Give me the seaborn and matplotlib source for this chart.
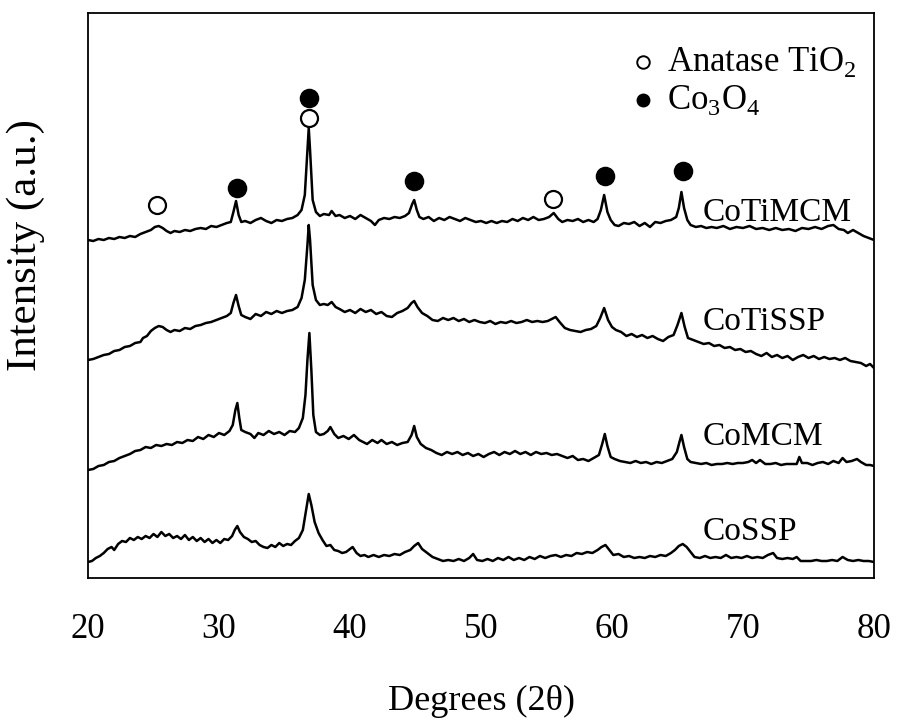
import matplotlib
matplotlib.use("Agg")
import matplotlib.pyplot as plt
import seaborn as sns

sns.set_style("white")
plt.rcParams['font.family'] = ['Liberation Serif', 'DejaVu Serif']
plt.rcParams['mathtext.fontset'] = 'custom'
plt.rcParams['mathtext.rm'] = 'Liberation Serif'
plt.rcParams['text.color'] = 'black'
plt.rcParams['axes.labelcolor'] = 'black'
plt.rcParams['xtick.color'] = 'black'

# XRD traces (stacked, intensity in a.u.)
cotimcm_2theta = [20.0, 20.4, 20.8, 21.2, 21.6, 22.0, 22.4, 22.8, 23.2, 23.6, 24.0, 24.4, 24.8, 25.1, 25.4, 25.7,
                  26.0, 26.3, 26.6, 27.0, 27.4, 27.8, 28.2, 28.6, 29.0, 29.4, 29.8, 30.2, 30.6, 30.9, 31.1, 31.3,
                  31.5, 31.7, 32.0, 32.4, 32.8, 33.2, 33.6, 34.0, 34.4, 34.8, 35.2, 35.6, 36.0, 36.3, 36.55, 36.75,
                  36.85, 36.95, 37.15, 37.4, 37.7, 38.0, 38.4, 38.6, 38.9, 39.2, 39.6, 40.0, 40.4, 40.8, 41.2, 41.6,
                  41.9, 42.2, 42.6, 43.0, 43.4, 43.8, 44.2, 44.5, 44.75, 44.9, 45.1, 45.3, 45.6, 46.0, 46.4, 46.8,
                  47.2, 47.6, 48.0, 48.4, 48.8, 49.2, 49.6, 50.0, 50.4, 50.8, 51.2, 51.6, 52.0, 52.4, 52.8, 53.2,
                  53.6, 54.0, 54.4, 54.8, 55.2, 55.55, 55.9, 56.2, 56.6, 57.0, 57.4, 57.8, 58.2, 58.6, 58.9, 59.15,
                  59.4, 59.65, 59.9, 60.2, 60.5, 60.9, 61.3, 61.7, 62.1, 62.5, 62.9, 63.3, 63.7, 64.1, 64.5, 64.9,
                  65.1, 65.3, 65.5, 65.75, 66.0, 66.4, 66.8, 67.2, 67.6, 68.0, 68.5, 69.0, 69.5, 70.0, 70.5, 71.0,
                  71.5, 72.0, 72.5, 73.0, 73.5, 74.0, 74.5, 75.0, 75.5, 76.0, 76.5, 76.9, 77.3, 77.7, 78.0, 78.4,
                  78.8, 79.2, 79.6, 80.0]
cotimcm_int = [338, 337, 339, 338, 340, 339, 341, 340, 342, 341, 344, 346, 348, 351, 352, 350,
               347, 345, 347, 346, 348, 347, 349, 350, 349, 352, 351, 353, 355, 356, 366, 377,
               363, 356, 357, 355, 358, 360, 357, 355, 358, 357, 359, 360, 363, 368, 383, 428,
               450, 428, 378, 366, 362, 364, 363, 367, 362, 363, 360, 362, 359, 363, 360, 357,
               353, 358, 360, 359, 361, 360, 362, 365, 374, 378, 368, 361, 359, 361, 357, 360,
               358, 361, 359, 357, 360, 358, 356, 357, 355, 357, 355, 357, 356, 359, 357, 360,
               358, 361, 358, 359, 361, 365, 359, 356, 358, 357, 359, 356, 358, 356, 359, 368,
               383, 366, 358, 353, 352, 355, 354, 356, 352, 355, 351, 356, 355, 357, 358, 361,
               370, 386, 370, 358, 353, 351, 352, 350, 351, 350, 352, 349, 351, 350, 352, 349,
               350, 348, 350, 348, 349, 347, 350, 349, 351, 349, 352, 353, 349, 348, 345, 348,
               345, 342, 340, 338]

cotissp_2theta = [20.0, 20.4, 20.8, 21.2, 21.6, 22.0, 22.4, 22.8, 23.2, 23.6, 24.0, 24.2, 24.5, 24.8, 25.1, 25.4,
                  25.7, 26.0, 26.3, 26.6, 27.0, 27.4, 27.8, 28.2, 28.6, 29.0, 29.4, 29.8, 30.2, 30.6, 30.9, 31.1,
                  31.3, 31.5, 31.7, 32.0, 32.4, 32.8, 33.2, 33.6, 34.0, 34.4, 34.8, 35.2, 35.6, 36.0, 36.3, 36.55,
                  36.75, 36.85, 36.95, 37.15, 37.4, 37.7, 38.0, 38.3, 38.6, 38.9, 39.2, 39.6, 40.0, 40.4, 40.8, 41.2,
                  41.6, 42.0, 42.4, 42.8, 43.2, 43.6, 44.0, 44.4, 44.7, 44.9, 45.15, 45.5, 45.9, 46.3, 46.7, 47.1,
                  47.5, 47.9, 48.3, 48.7, 49.1, 49.5, 49.9, 50.3, 50.7, 51.1, 51.5, 51.9, 52.3, 52.7, 53.1, 53.5,
                  53.9, 54.3, 54.7, 55.1, 55.4, 55.7, 56.0, 56.4, 56.8, 57.2, 57.6, 58.0, 58.4, 58.8, 59.1, 59.4,
                  59.7, 60.0, 60.3, 60.7, 61.1, 61.5, 61.9, 62.3, 62.7, 63.1, 63.5, 63.9, 64.3, 64.7, 65.0, 65.3,
                  65.55, 65.8, 66.2, 66.6, 67.0, 67.4, 67.8, 68.2, 68.6, 69.0, 69.4, 69.8, 70.2, 70.6, 71.0, 71.4,
                  71.8, 72.2, 72.6, 73.0, 73.4, 73.8, 74.2, 74.6, 75.0, 75.4, 75.8, 76.2, 76.6, 77.0, 77.4, 77.8,
                  78.2, 78.6, 79.0, 79.4, 79.7, 80.0]
cotissp_int = [218, 219, 221, 223, 224, 227, 228, 231, 232, 235, 236, 240, 242, 247, 250, 252,
               251, 248, 246, 248, 247, 250, 249, 252, 253, 255, 256, 258, 260, 262, 265, 275,
               283, 272, 263, 261, 259, 264, 262, 266, 264, 267, 265, 267, 268, 271, 280, 298,
               333, 353, 338, 293, 278, 273, 274, 273, 276, 271, 269, 266, 268, 265, 269, 266,
               268, 264, 266, 262, 261, 265, 267, 270, 275, 277, 271, 265, 262, 258, 257, 260,
               258, 260, 257, 259, 256, 258, 256, 255, 257, 254, 256, 255, 257, 255, 256, 258,
               256, 257, 256, 257, 259, 261, 256, 250, 248, 247, 246, 248, 249, 252, 260, 270,
               258, 251, 248, 246, 242, 244, 241, 243, 240, 242, 239, 237, 241, 243, 253, 265,
               251, 240, 238, 236, 234, 235, 232, 233, 230, 231, 228, 229, 226, 227, 224, 222,
               225, 221, 223, 220, 222, 218, 221, 223, 220, 222, 219, 221, 219, 220, 218, 220,
               217, 216, 215, 212, 214, 210]

comcm_2theta = [20.0, 20.4, 20.8, 21.2, 21.6, 22.0, 22.4, 22.8, 23.2, 23.6, 24.0, 24.4, 24.8, 25.2, 25.6, 26.0,
                26.4, 26.8, 27.2, 27.6, 28.0, 28.4, 28.8, 29.2, 29.6, 30.0, 30.4, 30.8, 31.05, 31.25, 31.4, 31.55,
                31.7, 32.0, 32.4, 32.7, 33.0, 33.4, 33.8, 34.2, 34.6, 35.0, 35.4, 35.8, 36.1, 36.4, 36.6, 36.75,
                36.9, 37.05, 37.2, 37.4, 37.7, 38.0, 38.3, 38.5, 38.8, 39.1, 39.5, 39.9, 40.3, 40.7, 41.0, 41.3,
                41.7, 42.1, 42.4, 42.8, 43.2, 43.6, 44.0, 44.4, 44.7, 44.9, 45.1, 45.4, 45.8, 46.2, 46.6, 47.0,
                47.4, 47.8, 48.2, 48.6, 49.0, 49.4, 49.8, 50.2, 50.6, 51.0, 51.4, 51.8, 52.2, 52.6, 53.0, 53.4,
                53.8, 54.2, 54.6, 55.0, 55.4, 55.8, 56.2, 56.6, 57.0, 57.4, 57.8, 58.2, 58.6, 59.0, 59.25, 59.45,
                59.65, 59.9, 60.2, 60.6, 61.0, 61.4, 61.8, 62.2, 62.6, 63.0, 63.4, 63.8, 64.2, 64.6, 64.95, 65.15,
                65.3, 65.5, 65.75, 66.0, 66.4, 66.8, 67.2, 67.6, 68.0, 68.4, 68.8, 69.2, 69.6, 70.0, 70.4, 70.7,
                71.0, 71.3, 71.7, 72.1, 72.5, 72.9, 73.3, 73.7, 74.1, 74.3, 74.5, 74.9, 75.3, 75.7, 76.1, 76.5,
                76.9, 77.3, 77.6, 77.9, 78.3, 78.7, 79.0, 79.4, 79.7, 80.0]
comcm_int = [108, 109, 112, 113, 116, 117, 120, 122, 124, 127, 128, 131, 130, 133, 132, 134,
             133, 136, 135, 138, 137, 141, 139, 143, 141, 145, 143, 147, 153, 168, 175, 160,
             148, 146, 144, 140, 145, 143, 147, 144, 146, 143, 147, 146, 150, 160, 183, 218,
             245, 208, 163, 146, 143, 144, 147, 151, 144, 140, 142, 139, 143, 138, 136, 134,
             138, 135, 138, 134, 136, 133, 135, 136, 143, 152, 141, 134, 130, 128, 125, 123,
             126, 124, 126, 123, 125, 122, 124, 121, 124, 126, 123, 126, 124, 127, 124, 126,
             123, 126, 124, 125, 123, 124, 122, 120, 122, 118, 119, 117, 120, 123, 134, 144,
             132, 121, 119, 117, 116, 115, 117, 115, 116, 114, 116, 115, 117, 119, 126, 136,
             143, 131, 119, 116, 115, 114, 115, 113, 114, 114, 115, 114, 115, 115, 116, 118,
             115, 118, 114, 114, 115, 113, 114, 114, 114, 121, 115, 115, 113, 115, 116, 114,
             117, 115, 120, 116, 117, 119, 116, 113, 113, 112]

cossp_2theta = [20.0, 20.3, 20.6, 20.9, 21.2, 21.5, 21.8, 22.0, 22.3, 22.6, 22.9, 23.2, 23.5, 23.8, 24.1, 24.4,
                24.7, 25.0, 25.3, 25.6, 25.9, 26.2, 26.5, 26.8, 27.1, 27.4, 27.7, 28.0, 28.3, 28.6, 28.9, 29.2,
                29.5, 29.8, 30.1, 30.4, 30.7, 31.0, 31.2, 31.4, 31.6, 31.9, 32.2, 32.5, 32.8, 33.1, 33.4, 33.7,
                34.0, 34.3, 34.6, 34.9, 35.2, 35.5, 35.8, 36.1, 36.4, 36.65, 36.85, 37.05, 37.3, 37.6, 37.9, 38.2,
                38.5, 38.8, 39.1, 39.4, 39.7, 40.0, 40.2, 40.5, 40.8, 41.1, 41.4, 41.8, 42.2, 42.6, 43.0, 43.4,
                43.8, 44.2, 44.6, 44.9, 45.2, 45.5, 45.9, 46.3, 46.7, 47.1, 47.5, 47.9, 48.3, 48.7, 49.1, 49.4,
                49.7, 50.1, 50.5, 50.9, 51.3, 51.7, 52.1, 52.5, 52.9, 53.3, 53.7, 54.1, 54.5, 54.9, 55.3, 55.7,
                56.1, 56.5, 56.9, 57.3, 57.7, 58.1, 58.5, 58.9, 59.2, 59.5, 59.8, 60.1, 60.5, 60.9, 61.3, 61.7,
                62.1, 62.5, 62.9, 63.3, 63.7, 64.1, 64.5, 64.8, 65.1, 65.4, 65.7, 66.0, 66.3, 66.7, 67.1, 67.5,
                67.9, 68.3, 68.7, 69.1, 69.5, 69.9, 70.3, 70.7, 71.1, 71.5, 71.9, 72.3, 72.6, 73.0, 73.4, 73.8,
                74.1, 74.4, 74.8, 75.2, 75.6, 76.0, 76.4, 76.8, 77.2, 77.6, 78.0, 78.4, 78.8, 79.2, 79.6, 80.0]
cossp_int = [16, 17, 20, 22, 25, 29, 31, 28, 34, 37, 36, 40, 38, 41, 39, 42,
             40, 44, 41, 46, 42, 44, 40, 42, 39, 43, 38, 41, 37, 40, 36, 39,
             35, 38, 35, 39, 38, 42, 48, 52, 46, 41, 39, 36, 37, 33, 31, 30,
             33, 31, 35, 32, 34, 33, 37, 40, 48, 68, 84, 73, 56, 45, 38, 32,
             33, 28, 27, 25, 26, 29, 31, 25, 22, 23, 21, 23, 21, 23, 22, 24,
             23, 26, 28, 32, 35, 29, 25, 21, 19, 17, 18, 17, 19, 17, 20, 24,
             18, 17, 19, 17, 20, 18, 21, 18, 20, 18, 21, 19, 22, 20, 22, 23,
             21, 23, 22, 25, 24, 26, 25, 28, 31, 33, 28, 23, 24, 21, 22, 20,
             21, 20, 22, 21, 23, 22, 25, 28, 32, 34, 31, 26, 21, 20, 22, 20,
             21, 20, 23, 20, 21, 20, 22, 20, 21, 20, 23, 25, 20, 19, 20, 19,
             21, 17, 17, 17, 18, 17, 17, 18, 17, 21, 18, 17, 18, 17, 17, 16]

samples = ["CoTiMCM", "CoTiSSP", "CoMCM", "CoSSP"]
label_int = [365, 256, 141, 46]

# phase markers: (2theta, height)
anatase_pos = [25.3, 36.9, 55.5]
anatase_h = [373, 460, 379]
co3o4_pos = [31.4, 36.9, 44.9, 59.45, 65.4]
co3o4_h = [390, 480, 397, 402, 407]

fig = plt.figure(figsize=(8.98, 7.21), dpi=100)
ax = fig.add_axes([88 / 898, 143 / 721, 786 / 898, 565 / 721])

traces = [(cotimcm_2theta, cotimcm_int), (cotissp_2theta, cotissp_int),
          (comcm_2theta, comcm_int), (cossp_2theta, cossp_int)]
for (tt, inten), name, ly in zip(traces, samples, label_int):
    sns.lineplot(x=tt, y=inten, ax=ax, color='black', linewidth=1.8, estimator=None, sort=False)
    ax.text(66.9, ly, name, fontsize=24, ha='left', va='center')

sns.scatterplot(x=anatase_pos, y=anatase_h, ax=ax, marker='o', s=150, facecolor='white',
                edgecolor='black', linewidth=1.6, zorder=5)
sns.scatterplot(x=co3o4_pos, y=co3o4_h, ax=ax, marker='o', s=170, color='black',
                edgecolor='black', zorder=5)

# legend drawn as text in the top right corner
ax.plot([62.35], [516], marker='o', ms=9, mfc='white', mec='black', mew=1.4, ls='none')
ax.text(64.2, 516, 'Anatase TiO$_2$', fontsize=25, ha='left', va='center')
ax.plot([62.35], [478], marker='o', ms=9, color='black', ls='none')
ax.text(64.2, 478, 'Co$_3$O$_4$', fontsize=25, ha='left', va='center')

ax.set_xlim(20, 80)
ax.set_ylim(0, 565)
ax.set_xticks([20, 30, 40, 50, 60, 70, 80])
ax.set_yticks([])
ax.tick_params(axis='x', direction='out', length=7, width=1.3, labelsize=25, pad=18)
for sp in ax.spines.values():
    sp.set_linewidth(1.3)
    sp.set_color('black')

ax.set_xlabel('Degrees (2θ)', fontsize=26)
ax.xaxis.set_label_coords(0.5, -0.19)
ax.set_ylabel('Intensity (a.u.)', fontsize=31)
ax.yaxis.set_label_coords(-0.055, 0.59)

fig.savefig('out.png', dpi=100)
